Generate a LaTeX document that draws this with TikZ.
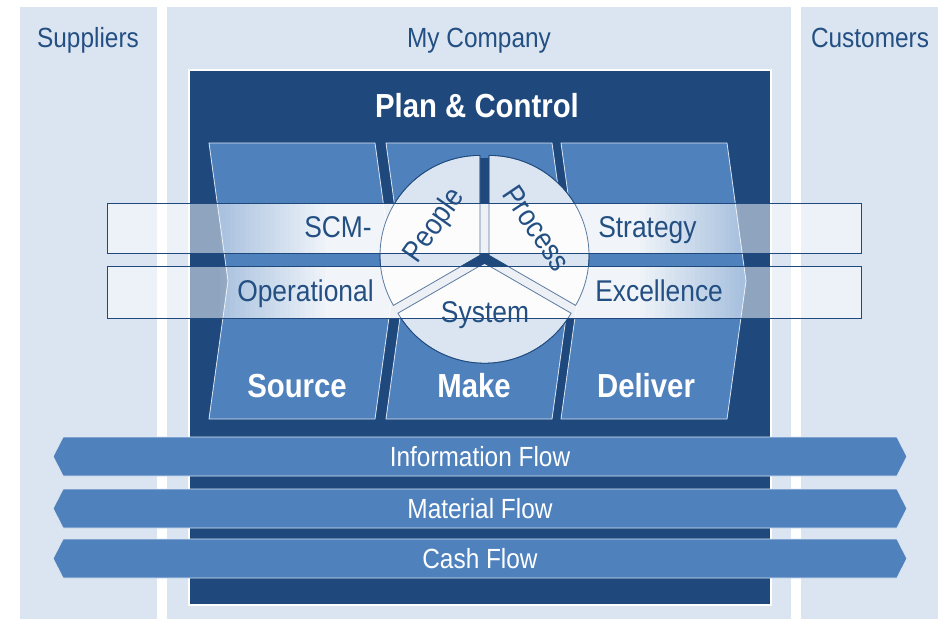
\documentclass[tikz,border=0pt]{standalone}
\usepackage{fontspec}
\setmainfont{Liberation Sans}[FakeStretch=0.88]
\definecolor{navy}{HTML}{1F497D}
\definecolor{midc}{HTML}{4F81BD}
\definecolor{panelc}{HTML}{DBE5F1}
\definecolor{txtc}{HTML}{234F82}
\begin{document}
\begin{tikzpicture}[x=0.75pt,y=-0.75pt,
 panel/.style={fill=panelc, draw=none},
 chev/.style={fill=midc, draw=panelc, line width=0.6pt},
 sector/.style={fill=panelc, draw=navy, line width=0.6pt},
 sectorline/.style={draw=navy, line width=0.6pt, draw opacity=0.7},
 bandline/.style={draw=navy, line width=0.7pt},
 flow/.style={fill=midc, draw=panelc, line width=0.7pt},
 lbl/.style={text=txtc, font=\fontsize{20.8}{24}\selectfont, inner sep=0pt, anchor=base},
 bandtxt/.style={text=txtc, font=\fontsize{22.5}{26}\selectfont, inner sep=0pt},
 boldtxt/.style={text=white, font=\bfseries\fontsize{25}{30}\selectfont, inner sep=0pt, anchor=base},
 flowtxt/.style={text=white, font=\fontsize{20.8}{24}\selectfont, inner sep=0pt, anchor=base}]
\fill[white] (0,0) rectangle (938,619);
\useasboundingbox (0,0) rectangle (938,619);
% panels
\fill[panel] (20,7) rectangle (157,619);
\fill[panel] (167,7) rectangle (791,619);
\fill[panel] (801,7) rectangle (938,619);
% dark box
\draw[fill=navy, draw=white, line width=0.8pt] (189,70) rectangle (771,605);
% chevrons
\foreach \a/\b in {209/375, 386/552, 561/727}{
  \draw[chev] (\a,143) -- (\b,143) -- (\b+19,281) -- (\b,419) -- (\a,419) -- (\a+19,281) -- cycle;
}
% circle
\coordinate (c) at (484.5,258);
\fill[navy] (c) circle[radius=100];
\draw[sector] ([shift={(-150:5.2)}]c) -- ++(-90:100) arc[start angle=-90, end angle=-210, radius=100] -- cycle;
\draw[sector] ([shift={(-30:5.2)}]c) -- ++(-90:100) arc[start angle=-90, end angle=30, radius=100] -- cycle;
\draw[sector] ([shift={(90:5.2)}]c) -- ++(150:100) arc[start angle=150, end angle=30, radius=100] -- cycle;
% bands
\foreach \ya/\yb in {203/253, 266/318}{
  \fill[white, fill opacity=0.5] (107,\ya) rectangle (215,\yb);
  \foreach \i in {0,...,22}{
    \pgfmathsetmacro\op{0.5+0.42*\i/22}
    \fill[white, fill opacity=\op] ({215+5*\i},\ya) rectangle ({220+5*\i},\yb);
  }
  \fill[white, fill opacity=0.92] (330,\ya) rectangle (635,\yb);
  \foreach \i in {0,...,21}{
    \pgfmathsetmacro\op{0.92-0.42*\i/21}
    \fill[white, fill opacity=\op] ({635+5*\i},\ya) rectangle ({640+5*\i},\yb);
  }
  \fill[white, fill opacity=0.5] (745,\ya) rectangle (861,\yb);
  \draw[bandline] (107,\ya) rectangle (861,\yb);
}
% sector outlines seen through the bands
\draw[sectorline] ([shift={(-150:5.2)}]c) -- ++(-90:100) arc[start angle=-90, end angle=-210, radius=100] -- cycle;
\draw[sectorline] ([shift={(-30:5.2)}]c) -- ++(-90:100) arc[start angle=-90, end angle=30, radius=100] -- cycle;
\draw[sectorline] ([shift={(90:5.2)}]c) -- ++(150:100) arc[start angle=150, end angle=30, radius=100] -- cycle;
% flows
\foreach \yc in {456.5, 508.5, 558.5}{
  \draw[flow] (53,\yc) -- (63,\yc-19.5) -- (897,\yc-19.5) -- (907,\yc) -- (897,\yc+19.5) -- (63,\yc+19.5) -- cycle;
}
% labels
\node[lbl] (sup) at (88,47) {Suppliers};
\node[lbl] (myc) at (479,47) {My Company};
\node[lbl] (cus) at (870,47) {Customers};
\node[boldtxt] (pc) at (477,117) {Plan \& Control};
\node[bandtxt, anchor=base east] (scm) at (372,237) {SCM-};
\node[bandtxt, anchor=base west] (str) at (598,237) {Strategy};
\node[bandtxt, anchor=base east] (ope) at (374,301) {Operational};
\node[bandtxt, anchor=base west] (exc) at (595,301) {Excellence};
\node[bandtxt, rotate=55] (peo) at (435,226) {People};
\node[bandtxt, rotate=-56] (pro) at (537,228) {Process};
\node[bandtxt, anchor=base] (sys) at (485,322) {System};
\node[boldtxt] (src) at (297,397) {Source};
\node[boldtxt] (mak) at (474,397) {Make};
\node[boldtxt] (del) at (646,397) {Deliver};
\node[flowtxt] (inf) at (480,466.4) {Information Flow};
\node[flowtxt] (mat) at (480,518.4) {Material Flow};
\node[flowtxt] (cash) at (480,568.4) {Cash Flow};
\end{tikzpicture}
\end{document}
